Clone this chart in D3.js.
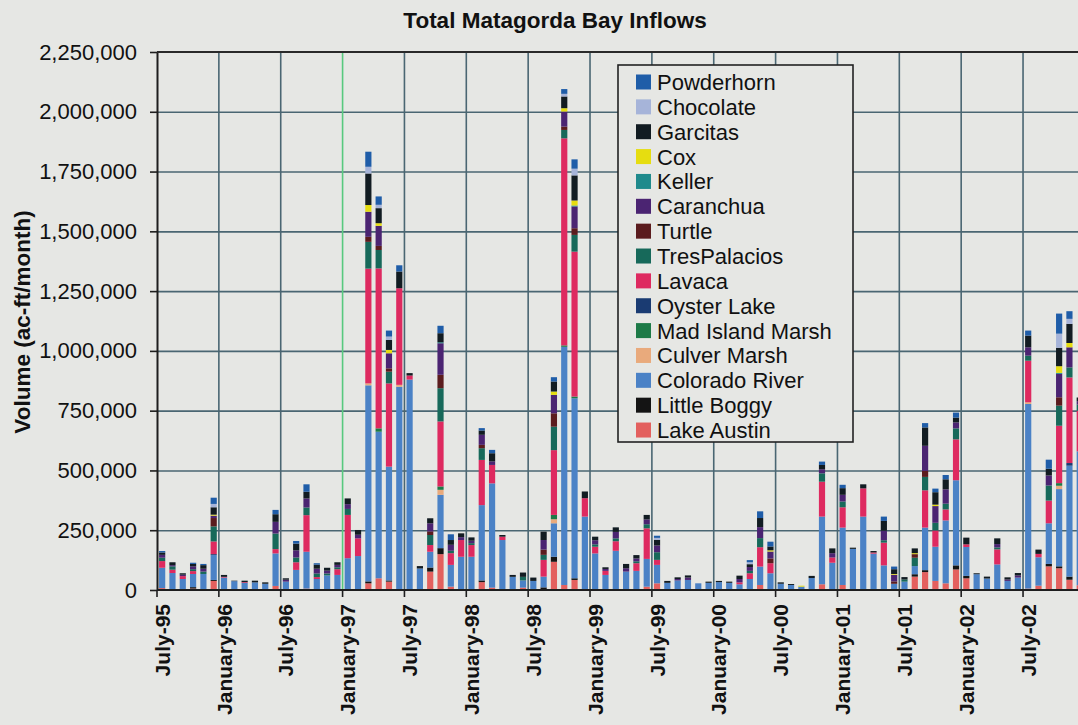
<!DOCTYPE html>
<html>
<head>
<meta charset="utf-8">
<title>Total Matagorda Bay Inflows</title>
<script src="https://cdnjs.cloudflare.com/ajax/libs/d3/7.8.5/d3.min.js"></script>
<style>
  body { margin: 0; background: #e6e7e4; }
  svg { display: block; font-family: 'Liberation Sans', Arial, sans-serif; }
</style>
</head>
<body>
<svg></svg>
<script>
// monthly inflows, values in 1,000 ac-ft/month
let months = [
    'Jul-95','Aug-95','Sep-95','Oct-95','Nov-95','Dec-95',
    'Jan-96','Feb-96','Mar-96','Apr-96','May-96','Jun-96','Jul-96','Aug-96','Sep-96','Oct-96','Nov-96','Dec-96',
    'Jan-97','Feb-97','Mar-97','Apr-97','May-97','Jun-97','Jul-97','Aug-97','Sep-97','Oct-97','Nov-97','Dec-97',
    'Jan-98','Feb-98','Mar-98','Apr-98','May-98','Jun-98','Jul-98','Aug-98','Sep-98','Oct-98','Nov-98','Dec-98',
    'Jan-99','Feb-99','Mar-99','Apr-99','May-99','Jun-99','Jul-99','Aug-99','Sep-99','Oct-99','Nov-99','Dec-99',
    'Jan-00','Feb-00','Mar-00','Apr-00','May-00','Jun-00','Jul-00','Aug-00','Sep-00','Oct-00','Nov-00','Dec-00',
    'Jan-01','Feb-01','Mar-01','Apr-01','May-01','Jun-01','Jul-01','Aug-01','Sep-01','Oct-01','Nov-01','Dec-01',
    'Jan-02','Feb-02','Mar-02','Apr-02','May-02','Jun-02','Jul-02','Aug-02','Sep-02','Oct-02','Nov-02','Dec-02'
]

let tickLabels = ['July-95','January-96','July-96','January-97','July-97','January-98','July-98','January-99',
                  'July-99','January-00','July-00','January-01','July-01','January-02','July-02']

let yTicks = [0, 250, 500, 750, 1000, 1250, 1500, 1750, 2000, 2250]

let lakeAustin = [
    8,4,0,6,3,38,0,0,0,0,  0,17,0,4,6,0,0,0,0,0,  28,49,35,0,0,0,77,150,14,0,
    0,33,10,0,0,10,0,0,118,21,  42,0,0,0,0,0,0,14,28,0,  0,0,0,0,0,0,0,0,21,0,
    0,0,0,0,24,0,21,0,0,0,  0,0,0,56,75,38,28,86,49,0,  0,0,0,0,6,18,99,91,43,20]
let littleBoggy = [
    0,0,0,6,0,4,0,0,0,0,  0,0,0,0,0,0,0,0,0,0,  8,0,5,0,0,0,17,25,0,0,
    0,7,0,0,0,0,0,11,21,0,  7,0,0,0,0,0,0,0,0,0,  0,0,0,0,0,0,0,0,0,0,
    0,0,0,0,0,0,0,0,0,0,  0,0,0,10,8,0,0,17,10,0,  0,0,0,0,0,0,10,8,13,0]
let coloradoRiver = [
    85,67,46,55,64,104,52,37,30,32,  26,136,35,80,154,46,61,63,133,142,  820,613,476,850,880,90,66,223,91,139,
    139,315,436,209,55,30,38,45,140,996,  753,307,153,63,164,77,80,116,77,30,  40,42,28,30,33,30,24,46,77,70,
    26,21,14,50,283,114,240,172,307,152,  103,26,35,34,178,143,263,356,121,66,  48,107,38,52,772,119,170,323,464,560]
let culverMarsh = [
    0,0,0,0,0,0,0,0,0,0,  0,0,0,0,0,0,0,0,0,0,  8,0,0,8,0,0,0,21,0,0,
    0,0,0,0,0,0,0,0,17,0,  0,0,0,0,0,0,0,0,0,0,  0,0,0,0,0,0,0,0,0,0,
    0,0,0,0,0,0,0,0,0,0,  0,0,0,0,0,0,0,0,0,0,  0,0,0,0,7,0,0,14,0,0]
let madIsland = [
    0,0,0,0,0,0,0,0,0,0,  0,0,0,0,0,0,0,0,0,0,  0,14,0,0,0,0,0,14,0,0,
    0,0,0,0,0,0,0,0,18,6,  7,0,0,0,0,0,0,0,0,0,  0,0,0,0,0,0,0,0,0,0,
    0,0,0,0,0,0,0,0,0,0,  0,0,0,0,0,0,0,0,0,0,  0,0,0,0,0,0,0,11,0,0]
let oysterLake = [
    0,0,0,0,0,4,0,0,0,0,  0,0,0,0,0,0,0,0,0,0,  0,0,0,0,0,0,0,0,0,0,
    0,0,0,0,0,0,0,0,0,0,  0,0,0,0,0,0,0,0,0,0,  0,0,0,0,0,0,0,0,0,0,
    0,0,0,0,0,0,0,0,0,0,  0,0,0,0,0,0,0,0,0,0,  0,0,0,0,0,0,0,0,11,0]
let lavaca = [
    28,14,12,12,0,53,3,0,3,0,  0,18,0,32,153,8,0,24,181,74,  480,669,348,404,17,0,28,272,49,70,
    49,189,77,14,0,0,0,70,271,866,  606,77,28,17,40,0,32,128,21,0,  0,0,0,0,0,0,8,24,81,42,
    0,0,0,0,146,22,85,0,118,5,  95,0,0,0,156,68,46,171,11,0,  0,63,0,0,174,14,95,240,358,170]
let tresPalacios = [
    14,14,0,8,10,63,0,0,0,0,  0,65,0,20,32,15,8,8,25,0,  112,77,49,0,0,0,42,139,10,0,
    8,49,0,0,0,15,0,21,98,35,  70,0,10,0,12,0,8,17,32,0,  0,0,0,0,0,0,0,10,38,0,
    0,0,0,0,35,0,24,0,0,0,  10,0,9,35,56,32,24,46,0,0,  0,8,0,0,21,0,63,84,42,25]
let turtle = [
    0,0,0,0,0,35,0,0,0,0,  0,0,0,0,0,0,0,0,0,0,  21,17,14,0,0,0,15,56,0,0,
    0,14,0,0,0,0,0,22,56,14,  28,0,0,0,0,0,0,0,0,0,  0,0,0,0,0,0,0,0,0,20,
    0,0,0,0,0,0,0,0,0,0,  0,10,0,15,25,0,0,0,0,0,  0,0,0,0,0,0,0,35,0,0]
let caranchua = [
    12,5,6,12,12,10,0,0,0,0,  0,49,8,30,38,20,12,10,20,15,  105,84,63,0,0,0,34,132,25,12,
    10,42,15,0,0,0,0,40,77,63,  91,0,17,8,27,14,12,20,28,0,  6,10,0,0,0,0,14,16,46,29,
    0,0,0,0,17,18,28,0,0,0,  40,28,0,0,105,70,60,25,0,0,  0,14,6,9,35,0,42,98,84,15]
let keller = [
    0,0,0,0,0,0,0,0,0,0,  0,0,0,0,0,0,0,0,0,0,  0,0,0,0,0,0,0,4,0,0,
    0,0,0,0,0,0,0,0,0,0,  4,0,0,0,0,0,0,0,0,0,  0,0,0,0,0,0,0,0,0,0,
    0,0,0,0,0,0,0,0,0,0,  0,0,0,0,0,0,0,0,0,0,  0,0,0,0,0,0,0,4,0,0]
let cox = [
    0,0,0,0,0,4,0,0,0,0,  0,0,0,0,0,0,0,0,0,0,  28,11,14,0,0,0,0,0,0,0,
    0,0,0,0,0,0,0,0,14,14,  21,0,0,0,0,0,0,0,0,0,  0,0,0,0,0,0,0,0,0,5,
    0,0,4,0,0,0,0,0,0,0,  0,3,0,4,0,6,0,0,0,0,  0,0,0,0,0,0,0,28,18,0]
let garcitas = [
    10,12,6,10,15,31,8,2,6,7,  6,32,6,28,28,17,12,11,24,20,  132,63,42,70,10,10,21,38,20,16,
    14,18,34,7,8,18,14,35,42,49,  105,28,15,7,19,18,14,19,24,8,  7,9,0,5,5,5,14,12,38,16,
    6,4,0,9,18,20,28,5,17,6,  41,20,10,20,77,52,42,20,28,4,  8,24,9,10,49,18,28,77,80,15]
let chocolate = [
    0,0,0,0,0,14,0,0,0,0,  0,0,0,0,0,0,0,0,0,0,  28,14,14,0,0,0,0,0,0,0,
    0,0,0,0,0,0,0,0,0,11,  28,0,0,0,0,0,0,0,8,0,  0,0,0,0,0,0,0,8,0,0,
    0,0,0,0,0,0,0,0,0,0,  0,0,0,0,0,0,0,0,0,0,  0,0,0,0,0,0,0,59,21,0]
let powderhorn = [
    6,0,0,5,5,26,0,0,0,0,  0,18,0,11,31,6,0,0,0,0,  63,35,25,26,0,0,0,31,24,0,
    0,10,14,0,0,0,0,0,18,20,  39,0,0,0,0,0,0,0,9,0,  0,0,0,0,0,0,0,9,28,20,
    0,0,0,0,14,0,14,0,0,0,  18,11,0,0,18,15,18,21,0,0,  0,0,0,0,21,0,38,84,32,0]

// stacking order, bottom first
let seriesNames = ['Lake Austin','Little Boggy','Colorado River','Culver Marsh','Mad Island Marsh','Oyster Lake',
                   'Lavaca','TresPalacios','Turtle','Caranchua','Keller','Cox','Garcitas','Chocolate','Powderhorn']
let seriesValues = [lakeAustin, littleBoggy, coloradoRiver, culverMarsh, madIsland, oysterLake,
                    lavaca, tresPalacios, turtle, caranchua, keller, cox, garcitas, chocolate, powderhorn]
let seriesColors = ['#e3605e','#141414','#4b82c6','#e9aa7c','#1d7a47','#1a3b72',
                    '#de2a60','#17695a','#5b1c1e','#4b2472','#1f8a8c','#e6dd10','#121c22','#a6b4d9','#1f5da8']

let width = 1078
let height = 725
let plotLeft = 157
let plotTop = 52
let plotBottom = 590
let step = 10.31

let svg = d3.select('svg').attr('width', width).attr('height', height)

let xScale
let yScale
let table = []
let gridColor = '#4a6672'

let buildTable = () => {
    table = months.map((m, i) => {
        let row = {month: m}
        seriesNames.forEach((s, k) => { row[s] = seriesValues[k][i] })
        return row
    })
}

let generateScales = () => {
    xScale = d3.scaleBand()
                .domain(months)
                .range([plotLeft, plotLeft + step * months.length])
                .paddingInner(0.4)
                .paddingOuter(0.2)

    yScale = d3.scaleLinear()
                .domain([0, 2250])
                .range([plotBottom, plotTop])
}

let drawGrid = () => {
    svg.append('g')
        .attr('transform', 'translate(' + plotLeft + ',0)')
        .call(d3.axisLeft(yScale).tickValues(yTicks.slice(1, -1)).tickSize(-(width - plotLeft)).tickFormat(''))
        .call(g => g.select('.domain').remove())
        .selectAll('line')
        .attr('stroke', gridColor)
        .attr('stroke-width', 1.6)

    let tickMonths = months.filter((m, i) => i % 6 == 0)
    svg.append('g')
        .selectAll('line')
        .data(tickMonths.slice(1))
        .enter()
        .append('line')
        .attr('x1', (m) => xScale(m) - xScale.step() * 0.2)
        .attr('x2', (m) => xScale(m) - xScale.step() * 0.2)
        .attr('y1', plotTop)
        .attr('y2', plotBottom)
        .attr('stroke', (m) => m == 'Jan-97' ? '#58c97e' : gridColor)
        .attr('stroke-width', 1.6)
}

let drawBars = () => {
    let stacked = d3.stack().keys(seriesNames)(table)

    svg.append('g')
        .selectAll('g')
        .data(stacked)
        .enter()
        .append('g')
        .attr('fill', (d, k) => seriesColors[k])
        .selectAll('rect')
        .data((d) => d)
        .enter()
        .append('rect')
        .attr('x', (d) => xScale(d.data.month))
        .attr('y', (d) => yScale(d[1]))
        .attr('width', xScale.bandwidth())
        .attr('height', (d) => yScale(d[0]) - yScale(d[1]))
}

let generateAxes = () => {
    let tickMonths = months.filter((m, i) => i % 6 == 0)

    // tick marks under the axis, between categories
    svg.append('g')
        .selectAll('line')
        .data(tickMonths)
        .enter()
        .append('line')
        .attr('x1', (m) => xScale(m) - xScale.step() * 0.2)
        .attr('x2', (m) => xScale(m) - xScale.step() * 0.2)
        .attr('y1', plotBottom)
        .attr('y2', plotBottom + 7)
        .attr('stroke', '#1e1e1e')
        .attr('stroke-width', 1.6)

    let xAxis = d3.axisBottom(xScale)
                    .tickValues(tickMonths)
                    .tickSize(0)
                    .tickFormat((m, i) => tickLabels[i])

    svg.append('g')
        .attr('id', 'x-axis')
        .attr('transform', 'translate(0,' + plotBottom + ')')
        .call(xAxis)
        .call(g => g.select('.domain').remove())
        .selectAll('text')
        .attr('transform', 'rotate(-90)')
        .attr('x', -14)
        .attr('y', 0)
        .attr('dy', '0.36em')
        .style('text-anchor', 'end')
        .style('font-size', '21px')
        .style('font-weight', 'bold')
        .attr('fill', '#111')

    let yAxis = d3.axisLeft(yScale)
                    .tickValues(yTicks)
                    .tickSize(7)
                    .tickSizeOuter(0)
                    .tickPadding(13)
                    .tickFormat((d) => d3.format(',')(d * 1000))

    svg.append('g')
        .attr('id', 'y-axis')
        .attr('transform', 'translate(' + plotLeft + ',0)')
        .call(yAxis)
        .call(g => g.selectAll('line').attr('stroke', '#1e1e1e').attr('stroke-width', 1.6))
        .call(g => g.select('.domain').attr('stroke', '#1e1e1e').attr('stroke-width', 2))
        .selectAll('text')
        .style('font-size', '22px')
        .attr('fill', '#111')

    svg.append('line')
        .attr('x1', plotLeft).attr('x2', width)
        .attr('y1', plotBottom).attr('y2', plotBottom)
        .attr('stroke', '#1e1e1e').attr('stroke-width', 2)

    svg.append('line')
        .attr('x1', plotLeft).attr('x2', width)
        .attr('y1', plotTop).attr('y2', plotTop)
        .attr('stroke', '#2a2a2a').attr('stroke-width', 2)

    svg.append('text')
        .attr('x', 555)
        .attr('y', 28)
        .attr('text-anchor', 'middle')
        .style('font-size', '22.5px')
        .style('font-weight', 'bold')
        .attr('fill', '#111')
        .text('Total Matagorda Bay Inflows')

    svg.append('text')
        .attr('transform', 'translate(30,322) rotate(-90)')
        .attr('text-anchor', 'middle')
        .style('font-size', '22.5px')
        .style('font-weight', 'bold')
        .attr('fill', '#111')
        .text('Volume (ac-ft/month)')
}

let drawLegend = () => {
    let legend = svg.append('g')

    legend.append('rect')
        .attr('x', 618).attr('y', 65)
        .attr('width', 235).attr('height', 377)
        .attr('fill', '#e6e7e4')
        .attr('stroke', '#222')
        .attr('stroke-width', 1.6)

    let items = seriesNames.map((s, k) => ({name: s, color: seriesColors[k]})).reverse()

    let rows = legend.selectAll('g')
                    .data(items)
                    .enter()
                    .append('g')
                    .attr('transform', (d, i) => 'translate(636,' + (82 + i * 24.86) + ')')

    rows.append('rect')
        .attr('x', 0).attr('y', -7.5)
        .attr('width', 15).attr('height', 15)
        .attr('fill', (d) => d.color)

    rows.append('text')
        .attr('x', 21)
        .attr('dy', '0.36em')
        .style('font-size', '22px')
        .attr('fill', '#111')
        .text((d) => d.name)
}

buildTable()
generateScales()
drawGrid()
drawBars()
generateAxes()
drawLegend()
</script>
</body>
</html>
